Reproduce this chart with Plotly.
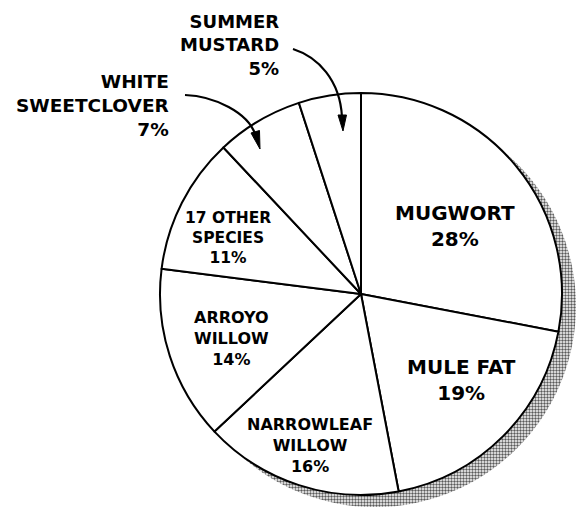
import plotly.graph_objects as go

# Species composition (percent of plant cover)
species = ["MUGWORT", "MULE FAT", "NARROWLEAF<br>WILLOW", "ARROYO<br>WILLOW",
           "17 OTHER<br>SPECIES", "WHITE<br>SWEETCLOVER", "SUMMER<br>MUSTARD"]
percent = [28, 19, 16, 14, 11, 7, 5]

W, H = 577, 508
CX, CY, R = 361, 294, 201          # pie centre and radius in pixels
SHADOW_DX, SHADOW_DY = 14, 12      # drop-shadow offset in pixels

FONT = "DejaVu Sans"

# label anchor (pixel x, pixel y), font size, alignment
label_style = [
    ((454.5, 226), 20, "center"),
    ((461.5, 379.5), 20, "center"),
    ((309.5, 445.5), 16, "center"),
    ((231, 338), 16, "center"),
    ((228, 238), 15.5, "center"),
    ((171, 105.5), 18.5, "right"),
    ((281, 45), 18, "right"),
]


def px_domain(cx, cy, r):
    return dict(x=[(cx - r) / W, (cx + r) / W],
                y=[(H - cy - r) / H, (H - cy + r) / H])


def px(x, y):
    return x / W, 1 - y / H


def path(cmds):
    # one coordinate group per command so plotly can map every value
    out = []
    for c, pts in cmds:
        coords = " ".join("%.5f,%.5f" % px(x, y) for x, y in pts)
        out.append((c + " " + coords).strip())
    return " ".join(out)


def arrow_head(tip, base_l, base_r):
    return path([("M", [base_l]), ("L", [tip]), ("L", [base_r]), ("Z", [])])


fig = go.Figure()

# stippled drop shadow
fig.add_trace(go.Pie(
    values=[1], labels=["shadow"], sort=False, textinfo="none", hoverinfo="skip",
    domain=px_domain(CX + SHADOW_DX, CY + SHADOW_DY, R),
    marker=dict(colors=["white"], line=dict(width=0),
                pattern=dict(shape=".", fgcolor="#5a5a5a", bgcolor="white",
                             size=3, solidity=0.5)),
    showlegend=False,
))

# main pie
fig.add_trace(go.Pie(
    values=percent, labels=species, sort=False, direction="clockwise", rotation=0,
    textinfo="none", hoverinfo="label+value",
    domain=px_domain(CX, CY, R),
    marker=dict(colors=["white"] * len(percent), line=dict(color="black", width=2)),
    showlegend=False,
))

annotations = []
for name, val, ((x, y), size, align) in zip(species, percent, label_style):
    ax, ay = px(x, y)
    annotations.append(dict(
        x=ax, y=ay, xref="paper", yref="paper", showarrow=False,
        text=f"{name}<br>{val}%", align=align,
        xanchor="right" if align == "right" else "center", yanchor="middle",
        font=dict(family=FONT, size=size, color="black", weight="bold"),
    ))

# curved leader arrows for the two small slices
shapes = [
    dict(type="path", xref="paper", yref="paper",
         path=path([("M", [(293, 49)]), ("C", [(318, 57), (340, 80), (342, 117)])]),
         line=dict(color="black", width=2.2)),
    dict(type="path", xref="paper", yref="paper",
         path=arrow_head((343, 131), (338, 115), (346.5, 115)),
         fillcolor="black", line=dict(color="black", width=1)),
    dict(type="path", xref="paper", yref="paper",
         path=path([("M", [(185, 95)]), ("C", [(215, 96), (248, 113), (255, 134)])]),
         line=dict(color="black", width=2.2)),
    dict(type="path", xref="paper", yref="paper",
         path=arrow_head((260, 149), (251, 133), (259.5, 130.5)),
         fillcolor="black", line=dict(color="black", width=1)),
]

fig.update_layout(
    width=W, height=H, margin=dict(l=0, r=0, t=0, b=0),
    paper_bgcolor="white", plot_bgcolor="white",
    annotations=annotations, shapes=shapes,
)

fig.write_html("out.html")
